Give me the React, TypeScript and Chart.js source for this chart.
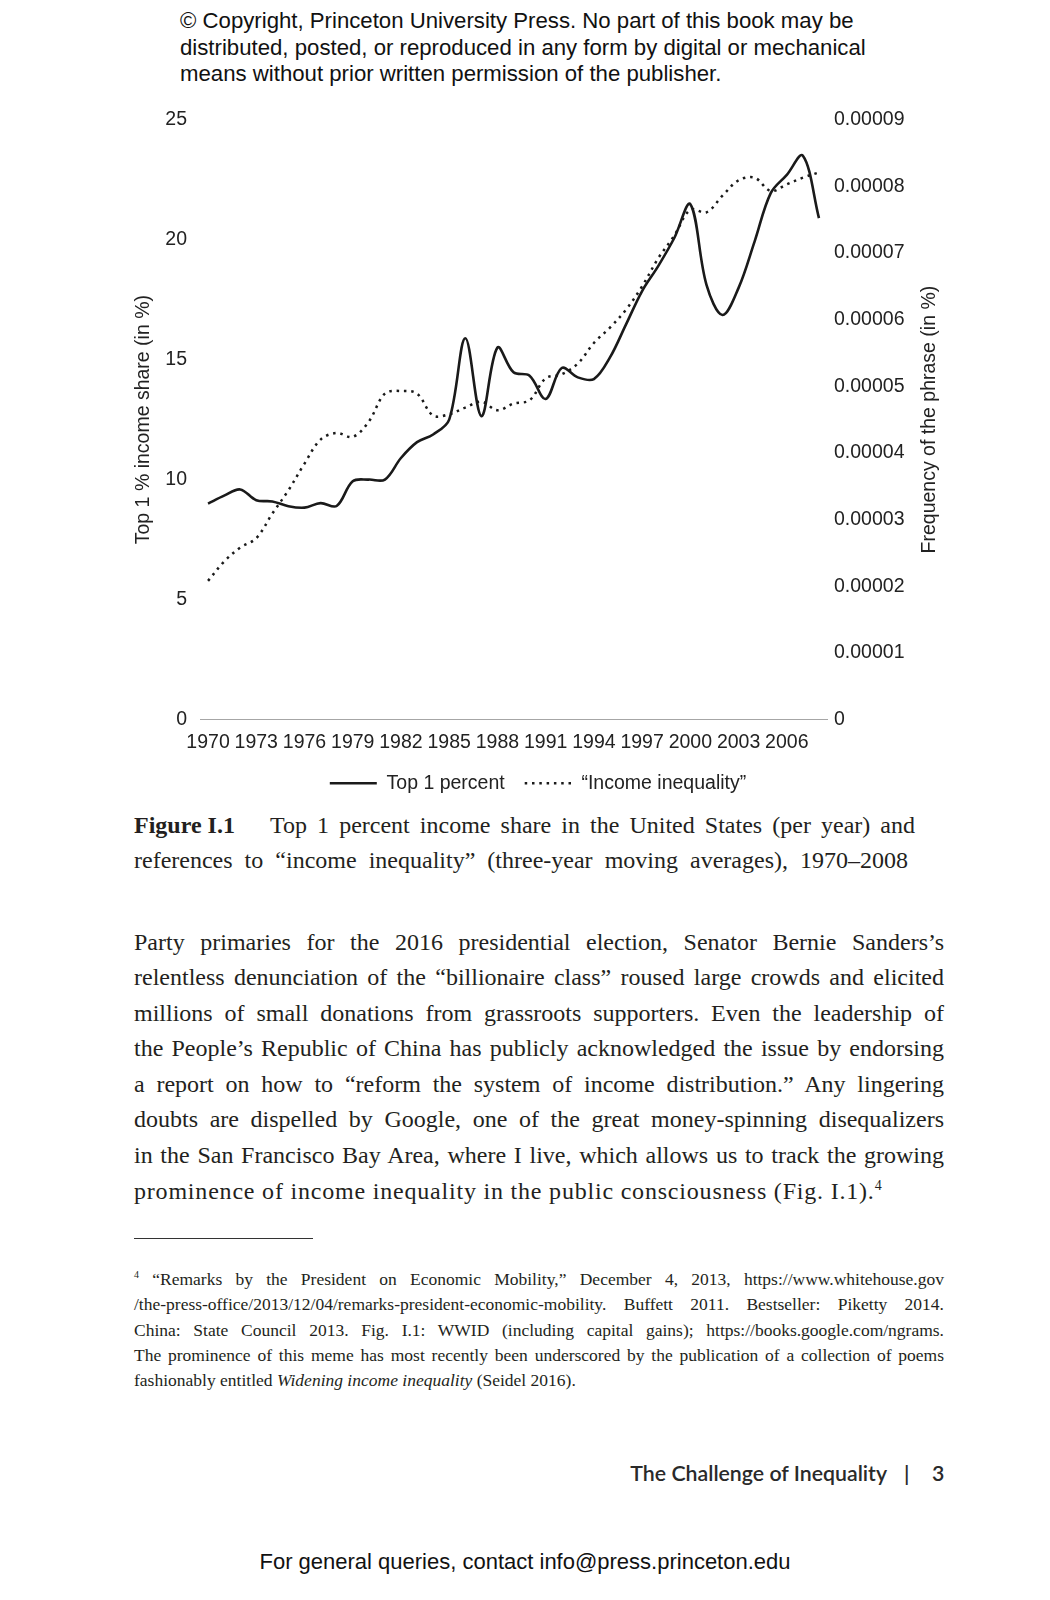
import React, { useEffect, useRef } from 'react';
import { Chart, registerables } from 'chart.js';

Chart.register(...registerables);

const years = [
  '1970', '1971', '1972', '1973', '1974', '1975', '1976', '1977', '1978', '1979',
  '1980', '1981', '1982', '1983', '1984', '1985', '1986', '1987', '1988', '1989',
  '1990', '1991', '1992', '1993', '1994', '1995', '1996', '1997', '1998', '1999',
  '2000', '2001', '2002', '2003', '2004', '2005', '2006', '2007', '2008',
];

// Top 1 % income share (in %), left axis
const top1Share = [
  9.0, 9.33, 9.59, 9.14, 9.09, 8.89, 8.83, 9.02, 8.9, 9.93,
  10.0, 10.0, 10.9, 11.56, 11.88, 12.5, 15.89, 12.64, 15.5, 14.47,
  14.33, 13.36, 14.65, 14.26, 14.19, 15.09, 16.47, 17.86, 18.9, 20.07,
  21.48, 18.13, 16.86, 17.99, 19.93, 21.94, 22.7, 23.5, 20.9,
];

// Frequency of the phrase "income inequality" (in %), right axis
const incomeInequalityFreq = [
  2.08e-5, 2.37e-5, 2.58e-5, 2.72e-5, 3.09e-5, 3.44e-5, 3.84e-5, 4.2e-5, 4.3e-5, 4.24e-5,
  4.47e-5, 4.89e-5, 4.93e-5, 4.89e-5, 4.56e-5, 4.58e-5, 4.68e-5, 4.77e-5, 4.64e-5, 4.74e-5,
  4.79e-5, 5.12e-5, 5.18e-5, 5.34e-5, 5.65e-5, 5.88e-5, 6.15e-5, 6.5e-5, 6.92e-5, 7.26e-5,
  7.65e-5, 7.61e-5, 7.86e-5, 8.09e-5, 8.13e-5, 7.93e-5, 8.03e-5, 8.13e-5, 8.21e-5,
];

const xTickLabels = ['1970', '1973', '1976', '1979', '1982', '1985', '1988', '1991', '1994', '1997', '2000', '2003', '2006'];
const leftTicks = [0, 5, 10, 15, 20, 25];
const rightTicks = [0, 0.00001, 0.00002, 0.00003, 0.00004, 0.00005, 0.00006, 0.00007, 0.00008, 0.00009];
const rightTickLabels = ['0', '0.00001', '0.00002', '0.00003', '0.00004', '0.00005', '0.00006', '0.00007', '0.00008', '0.00009'];

const seriesNames = ['Top 1 percent', '\u201CIncome inequality\u201D'];
const leftTitle = 'Top 1 % income share (in %)';
const rightTitle = 'Frequency of the phrase (in %)';

const SANS = '"Liberation Sans", Arial, Helvetica, sans-serif';
const SERIF = '"Liberation Serif", "Times New Roman", serif';
const INK = '#222';
const FS = 19.5;

const rightTitlePlugin = {
  id: 'rightTitle',
  afterDraw(chart: any) {
    const { ctx, chartArea, scales } = chart;
    const s = scales.y1;
    ctx.save();
    ctx.translate(s.right - 26, (chartArea.top + chartArea.bottom) / 2);
    ctx.rotate(-Math.PI / 2);
    ctx.font = `${FS}px ${SANS}`;
    ctx.fillStyle = INK;
    ctx.textAlign = 'center';
    ctx.textBaseline = 'middle';
    ctx.fillText(rightTitle, 0, 0);
    ctx.restore();
  },
};

function ChartView() {
  const ref = useRef<HTMLCanvasElement | null>(null);
  useEffect(() => {
    if (!ref.current) return;
    const chart = new Chart(ref.current, {
      type: 'line',
      data: {
        labels: years,
        datasets: [
          {
            label: seriesNames[0],
            data: top1Share,
            yAxisID: 'y',
            borderColor: '#1a1a1a',
            backgroundColor: '#1a1a1a',
            borderWidth: 2.6,
            pointRadius: 0,
            pointStyle: 'line',
            tension: 0.35,
            fill: false,
          },
          {
            label: seriesNames[1],
            data: incomeInequalityFreq,
            yAxisID: 'y1',
            borderColor: '#1a1a1a',
            backgroundColor: '#1a1a1a',
            borderWidth: 2.5,
            borderDash: [2.5, 4.8],
            pointRadius: 0,
            pointStyle: 'line',
            tension: 0.35,
            fill: false,
          },
        ],
      },
      options: {
        responsive: false,
        animation: false,
        layout: { padding: { top: 23, left: 0, right: 0, bottom: 0 } },
        plugins: {
          tooltip: { enabled: false },
          legend: {
            display: true,
            position: 'bottom',
            labels: {
              usePointStyle: true,
              pointStyleWidth: 47,
              padding: 20,
              color: INK,
              font: { family: SANS, size: FS },
              generateLabels: (c: any) => {
                const items = (Chart as any).defaults.plugins.legend.labels.generateLabels(c);
                return items.map((it: any) => {
                  const ds = c.data.datasets[it.datasetIndex];
                  return {
                    ...it,
                    pointStyle: 'line',
                    lineWidth: ds.datasetIndex === 1 ? 2.5 : (ds.borderWidth || 2.6),
                    lineDash: ds.borderDash || [],
                    strokeStyle: ds.borderColor,
                    fillStyle: ds.borderColor,
                  };
                });
              },
            },
          },
        },
        scales: {
          x: {
            type: 'category',
            offset: true,
            grid: { display: false, drawTicks: false },
            border: { display: true, color: '#a6a6a6', width: 1 },
            ticks: {
              autoSkip: false,
              maxRotation: 0,
              minRotation: 0,
              padding: 11,
              color: INK,
              font: { family: SANS, size: FS },
              callback: (_v: any, i: number) => (xTickLabels.includes(years[i]) ? years[i] : ''),
            },
            afterFit: (s: any) => { s.height = 34; },
          },
          y: {
            position: 'left',
            min: 0,
            max: 25,
            grid: { display: false, drawTicks: false },
            border: { display: false },
            ticks: {
              padding: 13,
              color: INK,
              font: { family: SANS, size: FS },
            },
            afterBuildTicks: (s: any) => { s.ticks = leftTicks.map((v) => ({ value: v })); },
            title: {
              display: true,
              text: leftTitle,
              color: INK,
              font: { family: SANS, size: FS },
              padding: { top: 12, bottom: 0 },
            },
            afterFit: (s: any) => { s.width = 80; },
          },
          y1: {
            position: 'right',
            min: 0,
            max: 0.00009,
            grid: { display: false, drawTicks: false },
            border: { display: false },
            ticks: {
              padding: 7,
              color: INK,
              font: { family: SANS, size: FS },
              callback: (_v: any, i: number) => rightTickLabels[i],
            },
            afterBuildTicks: (s: any) => { s.ticks = rightTicks.map((v) => ({ value: v })); },
            afterFit: (s: any) => { s.width = 129; },
          },
        },
      },
      plugins: [rightTitlePlugin],
    } as any);
    return () => chart.destroy();
  }, []);
  return <canvas ref={ref} width={836} height={708} style={{ position: 'absolute', left: 120, top: 95, width: 836, height: 708 }} />;
}

const copyrightLines = [
  '\u00A9 Copyright, Princeton University Press. No part of this book may be',
  'distributed, posted, or reproduced in any form by digital or mechanical',
  'means without prior written permission of the publisher.',
];

const bodyLines = [
  'Party primaries for the 2016 presidential election, Senator Bernie Sanders\u2019s',
  'relentless denunciation of the \u201Cbillionaire class\u201D roused large crowds and elicited',
  'millions of small donations from grassroots supporters. Even the leadership of',
  'the People\u2019s Republic of China has publicly acknowledged the issue by endorsing',
  'a report on how to \u201Creform the system of income distribution.\u201D Any lingering',
  'doubts are dispelled by Google, one of the great money-spinning disequalizers',
  'in the San Francisco Bay Area, where I live, which allows us to track the growing',
];

const footLines = [
  '/the-press-office/2013/12/04/remarks-president-economic-mobility. Buffett 2011. Bestseller: Piketty 2014.',
  'China: State Council 2013. Fig. I.1: WWID (including capital gains); https://books.google.com/ngrams.',
  'The prominence of this meme has most recently been underscored by the publication of a collection of poems',
];

function JLine(props: { top: number; left: number; width: number; size: number; lh: number; children: any }) {
  return (
    <div
      style={{
        position: 'absolute',
        top: props.top,
        left: props.left,
        width: props.width,
        fontSize: props.size,
        lineHeight: `${props.lh}px`,
        textAlign: 'justify',
        textAlignLast: 'justify' as any,
      }}
    >
      {props.children}
    </div>
  );
}

export default function App() {
  const bodyTop = 924.6;
  const bodyLH = 35.57;
  const footTop = 1267;
  const footLH = 25.26;
  const footerFont = 'Lato, "Open Sans", sans-serif';
  return (
    <div style={{ position: 'absolute', left: 0, top: 0, width: 1050, height: 1600, background: '#fff', overflow: 'hidden', color: '#231f20' }}>
      <div style={{ position: 'absolute', left: 180, top: 8.3, fontFamily: SANS, fontSize: 22.2, lineHeight: '26.5px', color: '#111' }}>
        {copyrightLines.map((l, i) => (
          <div key={i} style={{ whiteSpace: 'nowrap' }}>{l}</div>
        ))}
      </div>

      <ChartView />

      <div style={{ fontFamily: SERIF }}>
        <div style={{ position: 'absolute', left: 134, top: 807.6, fontSize: 24, lineHeight: '35px', fontWeight: 700, whiteSpace: 'nowrap' }}>Figure I.1</div>
        <JLine top={807.6} left={270} width={645} size={24} lh={35}>
          Top 1 percent income share in the United States (per year) and
        </JLine>
        <JLine top={842.6} left={134} width={774} size={24} lh={35}>
          references to {'\u201C'}income inequality{'\u201D'} (three-year moving averages), 1970{'\u2013'}2008
        </JLine>

        {bodyLines.map((l, i) => (
          <JLine key={i} top={bodyTop + i * bodyLH} left={134} width={810} size={24} lh={bodyLH}>{l}</JLine>
        ))}
        <div style={{ position: 'absolute', left: 134, top: bodyTop + 7 * bodyLH, fontSize: 24, lineHeight: `${bodyLH}px`, whiteSpace: 'nowrap', letterSpacing: 0.8 }}>
          prominence of income inequality in the public consciousness (Fig. I.1).
          <span style={{ fontSize: 14, verticalAlign: 'super', lineHeight: 0 }}>4</span>
        </div>

        <div style={{ position: 'absolute', left: 134, top: 1238, width: 179, height: 0, borderTop: '1px solid #333' }} />

        <JLine top={footTop} left={134} width={810} size={17.5} lh={footLH}>
          <span style={{ fontSize: 10, verticalAlign: 'super', lineHeight: 0 }}>4</span> {'\u201C'}Remarks by the President on Economic Mobility,{'\u201D'} December 4, 2013, https://www.whitehouse.gov
        </JLine>
        {footLines.map((l, i) => (
          <JLine key={i} top={footTop + (i + 1) * footLH} left={134} width={810} size={17.5} lh={footLH}>{l}</JLine>
        ))}
        <div style={{ position: 'absolute', left: 134, top: footTop + 4 * footLH, fontSize: 17.5, lineHeight: `${footLH}px`, whiteSpace: 'nowrap' }}>
          fashionably entitled <i>Widening income inequality</i> (Seidel 2016).
        </div>
      </div>

      <div style={{ position: 'absolute', right: 1050 - 887, top: 1461, fontFamily: footerFont, fontWeight: 600, fontSize: 21.3, lineHeight: '25px', whiteSpace: 'nowrap', color: '#2a2a2a' }}>
        The Challenge of Inequality
      </div>
      <div style={{ position: 'absolute', left: 904, top: 1461, fontFamily: footerFont, fontWeight: 600, fontSize: 21.3, lineHeight: '25px', color: '#2a2a2a' }}>|</div>
      <div style={{ position: 'absolute', left: 932, top: 1461, fontFamily: footerFont, fontWeight: 600, fontSize: 21.3, lineHeight: '25px', color: '#2a2a2a' }}>3</div>

      <div style={{ position: 'absolute', left: 0, width: 1050, top: 1549, textAlign: 'center', fontFamily: SANS, fontSize: 22, lineHeight: '26px', color: '#111' }}>
        For general queries, contact info@press.princeton.edu
      </div>
    </div>
  );
}
